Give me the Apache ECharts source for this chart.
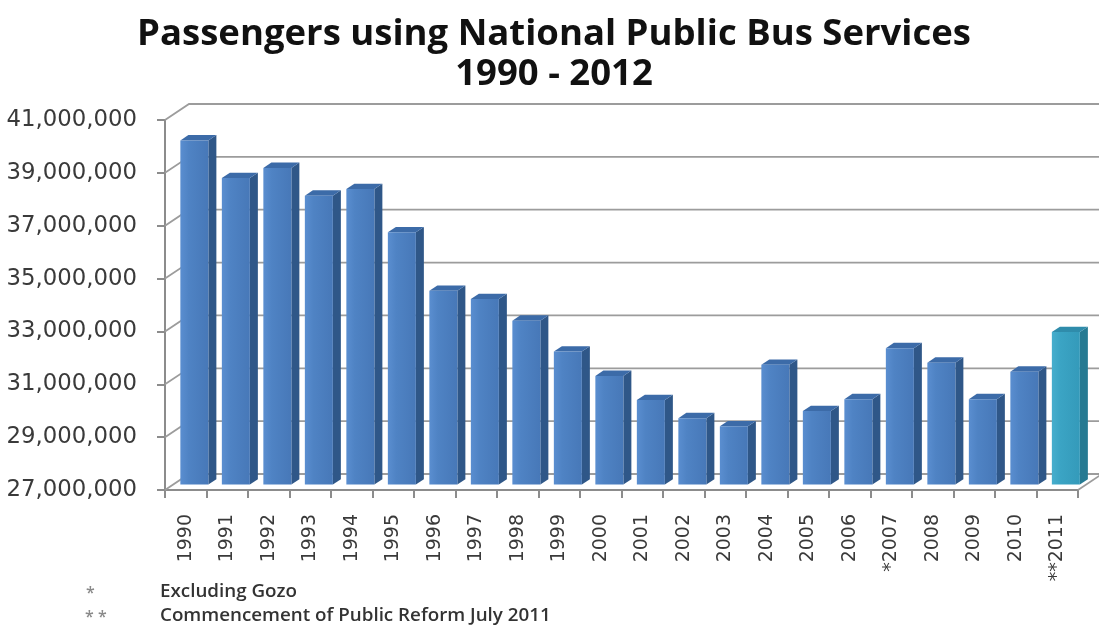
<!DOCTYPE html>
<html>
<head>
<meta charset="utf-8">
<script src="https://cdn.jsdelivr.net/npm/echarts@6/dist/echarts.min.js"></script>
<style>
  html, body { margin: 0; padding: 0; background: #ffffff; }
  #chart { width: 1099px; height: 628px; }
</style>
</head>
<body>
<div id="chart"></div>
<script>
// ---------------- data ----------------
const titleLines = ['Passengers using National Public Bus Services', '1990 - 2012'];
const categories = ['1990', '1991', '1992', '1993', '1994', '1995', '1996', '1997', '1998', '1999',
  '2000', '2001', '2002', '2003', '2004', '2005', '2006', '*2007', '2008', '2009', '2010', '**2011'];
const passengers = [40020000, 38600000, 38980000, 37930000, 38180000, 36540000, 34330000, 34020000,
  33200000, 32030000, 31110000, 30200000, 29510000, 29200000, 31530000, 29780000, 30230000,
  32160000, 31610000, 30230000, 31270000, 32770000];
const highlightedCategories = ['**2011'];
const yMin = 27000000;
const yMax = 41000000;
const yInterval = 2000000;
const yTicks = [27000000, 29000000, 31000000, 33000000, 35000000, 37000000, 39000000, 41000000];
const footnoteMarks = ['*', '* *'];
const footnoteTexts = ['Excluding Gozo', 'Commencement of Public Reform July 2011'];

// ---------------- style ----------------
const WALL_DX = 24, WALL_DY = -16;      // back wall offset (pseudo 3D)
const BAR_LIFT = 5.5;                   // bar front plane above the front floor edge
const BAR_DX = 8, BAR_DY = -5.3;        // bar depth
const AXIS_COLOR = '#8c8c8c';
const GRID_COLOR = '#9c9c9c';
const TEXT_COLOR = '#3a3a3a';

const blueFaces = {
  front: new echarts.graphic.LinearGradient(0, 0, 1, 0, [
    { offset: 0, color: '#5a8ed0' }, { offset: 0.3, color: '#4f83c4' }, { offset: 1, color: '#4778b8' }]),
  side: '#2f5788',
  top: '#3c6ba8'
};
const tealFaces = {
  front: new echarts.graphic.LinearGradient(0, 0, 1, 0, [
    { offset: 0, color: '#46aecd' }, { offset: 0.3, color: '#3ba4c4' }, { offset: 1, color: '#349aba' }]),
  side: '#267a92',
  top: '#2f8cab'
};

const barData = passengers.map((v, i) => [i, v]);
const wallData = yTicks.map(v => [0, v]);

function renderWall(params, api) {
  const v = api.value(1);
  const band = api.size([1, 0])[0];
  const p = api.coord([0, v]);
  const pEnd = api.coord([categories.length - 1, v]);
  const left = p[0] - band / 2;
  const right = pEnd[0] + band / 2;
  const y = p[1];
  return {
    type: 'polyline',
    shape: { points: [[left, y], [left + WALL_DX, y + WALL_DY], [right + WALL_DX, y + WALL_DY]] },
    style: { stroke: GRID_COLOR, lineWidth: 1.8, fill: null }
  };
}

function renderFloorEdge(params, api) {
  const band = api.size([1, 0])[0];
  const p = api.coord([categories.length - 1, yMin]);
  const right = p[0] + band / 2;
  return {
    type: 'line',
    shape: { x1: right, y1: p[1], x2: right + WALL_DX, y2: p[1] + WALL_DY },
    style: { stroke: GRID_COLOR, lineWidth: 1.8 }
  };
}

function renderBar(params, api) {
  const i = api.value(0);
  const v = api.value(1);
  const band = api.size([1, 0])[0];
  const top = api.coord([i, v]);
  const base = api.coord([i, yMin]);
  const w = band * 0.675;
  const x0 = top[0] - band * 0.13;
  const yT = top[1] - BAR_LIFT;
  const yB = base[1] - BAR_LIFT;
  const faces = highlightedCategories.indexOf(categories[i]) >= 0 ? tealFaces : blueFaces;
  return {
    type: 'group',
    children: [
      { type: 'polygon', shape: { points: [[x0 + w, yT], [x0 + w + BAR_DX, yT + BAR_DY], [x0 + w + BAR_DX, yB + BAR_DY], [x0 + w, yB]] },
        style: { fill: faces.side } },
      { type: 'polygon', shape: { points: [[x0, yT], [x0 + BAR_DX, yT + BAR_DY], [x0 + w + BAR_DX, yT + BAR_DY], [x0 + w, yT]] },
        style: { fill: faces.top } },
      { type: 'rect', shape: { x: x0, y: yT, width: w, height: yB - yT },
        style: { fill: faces.front } }
    ]
  };
}

const chart = echarts.init(document.getElementById('chart'), null, { renderer: 'canvas' });
chart.setOption({
  backgroundColor: '#ffffff',
  animation: false,
  title: {
    text: titleLines.join('\n'),
    left: 549,
    top: 10,
    textAlign: 'center',
    textStyle: {
      fontFamily: 'Open Sans',
      fontWeight: 'bold',
      fontSize: 36.5,
      lineHeight: 40,
      color: '#111111'
    }
  },
  grid: { left: 165, top: 120, width: 913, height: 370, containLabel: false },
  xAxis: {
    type: 'category',
    data: categories,
    boundaryGap: true,
    axisLine: { lineStyle: { color: AXIS_COLOR, width: 2 } },
    axisTick: { show: true, length: 8, lineStyle: { color: AXIS_COLOR, width: 2 } },
    axisLabel: {
      rotate: 90,
      margin: 24,
      fontFamily: 'DejaVu Sans',
      fontSize: 19,
      color: TEXT_COLOR,
      interval: 0
    },
    splitLine: { show: false }
  },
  yAxis: {
    type: 'value',
    min: yMin,
    max: yMax,
    interval: yInterval,
    axisLine: { show: true, lineStyle: { color: AXIS_COLOR, width: 2 } },
    axisTick: { show: true, length: 8, lineStyle: { color: AXIS_COLOR, width: 2 } },
    axisLabel: {
      margin: 28,
      fontFamily: 'DejaVu Sans',
      fontSize: 22.8,
      color: TEXT_COLOR,
      formatter: v => v.toLocaleString('en-US')
    },
    splitLine: { show: false }
  },
  series: [
    { type: 'custom', name: 'walls', renderItem: renderWall, data: wallData, z: 1, silent: true },
    { type: 'custom', name: 'floor', renderItem: renderFloorEdge, data: [[0, yMin]], z: 1, silent: true },
    { type: 'custom', name: 'Passengers', renderItem: renderBar, data: barData, z: 3,
      encode: { x: 0, y: 1 } }
  ],
  graphic: [
    { type: 'text', left: 86, top: 585, style: { text: footnoteMarks[0], fill: '#8a8a8a', font: '600 16px "Open Sans"' } },
    { type: 'text', left: 160, top: 582, style: { text: footnoteTexts[0], fill: '#333333', font: '600 18.8px "Open Sans"' } },
    { type: 'text', left: 85, top: 609, style: { text: footnoteMarks[1], fill: '#8a8a8a', font: '600 16px "Open Sans"' } },
    { type: 'text', left: 160, top: 606, style: { text: footnoteTexts[1], fill: '#333333', font: '600 18.8px "Open Sans"' } }
  ]
});
</script>
</body>
</html>
